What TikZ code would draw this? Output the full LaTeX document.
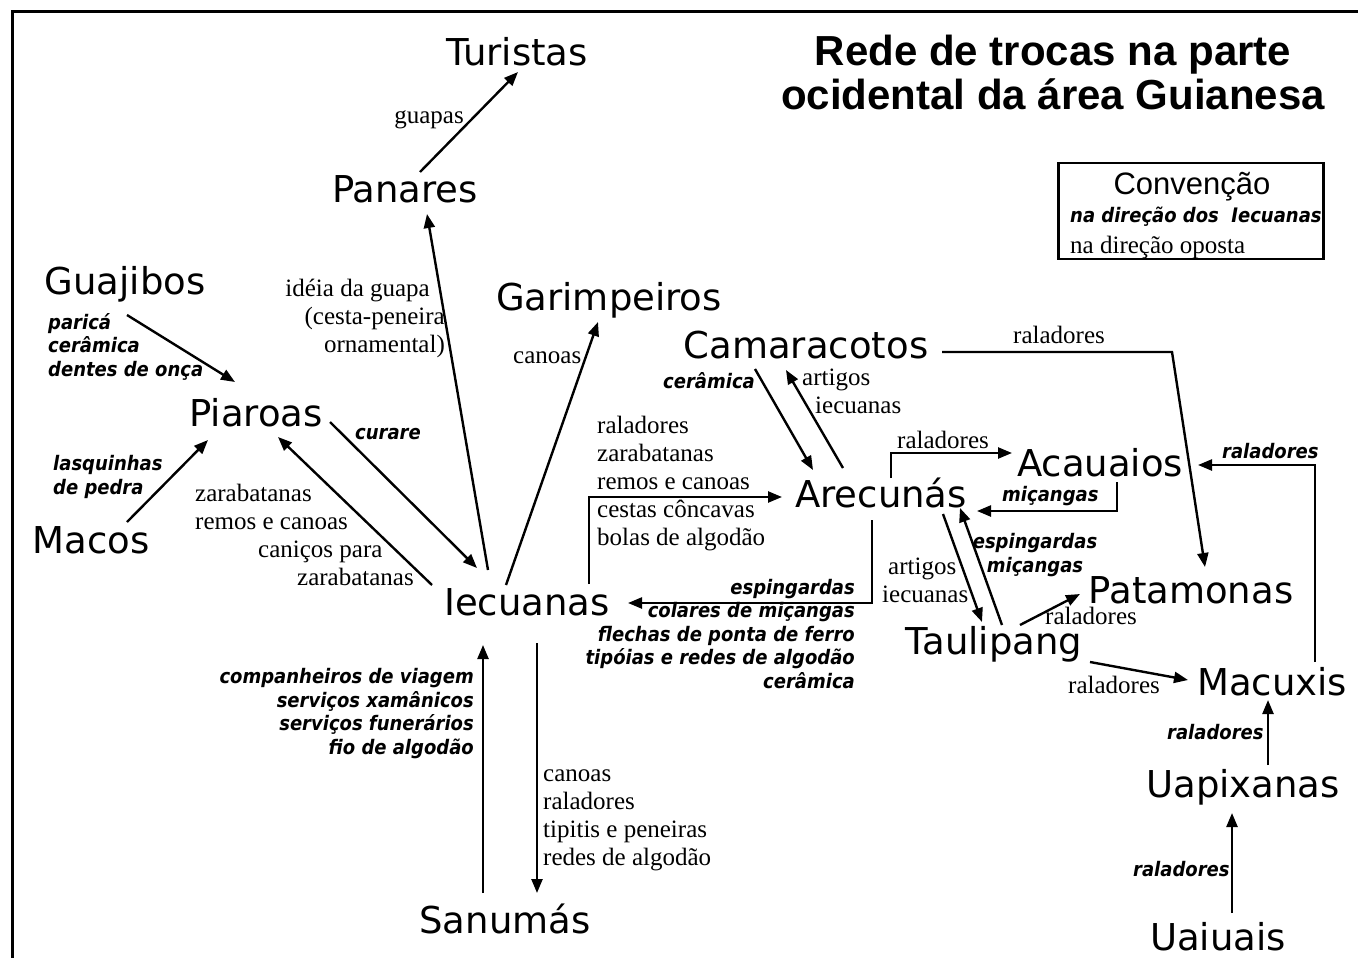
\documentclass[tikz,border=0pt]{standalone}
\usepackage{fontspec}
\setmainfont{Liberation Serif}
\newfontfamily\tribefont{DejaVu Sans}
\newfontfamily\headfont{Liberation Sans}
\newfontfamily\slfont{DejaVuSansCondensed-BoldOblique.ttf}
\usetikzlibrary{arrows.meta}

\begin{document}
\begin{tikzpicture}[x=1pt,y=-1pt,
  tribe/.style={font=\tribefont\fontsize{37}{40}\selectfont, inner sep=0pt, anchor=base},
  note/.style={font=\fontsize{25}{28}\selectfont, inner sep=0pt, anchor=base west, align=left},
  snote/.style={font=\slfont\fontsize{20}{23.5}\selectfont, inner sep=0pt, anchor=base west, align=left},
  to/.style={->, >={Triangle[length=14pt,width=11pt]}, line width=2.4pt}]

  \useasboundingbox (0,0) rectangle (1358,958);
  \draw[line width=3pt] (12,958) -- (12,12) -- (1358,12);

  % title and legend
  \node[font=\headfont\bfseries\fontsize{42}{44}\selectfont, align=center,
        anchor=base, inner sep=0pt] (title) at (1053,110)
        {Rede de trocas na parte\\ocidental da área Guianesa};
  \node[draw, line width=2.4pt, minimum width=265pt, minimum height=96pt] (conv) at (1191,211) {};
  \node[font=\headfont\fontsize{31}{34}\selectfont, anchor=base, inner sep=0pt] (convt) at (1192,194) {Convenção};
  \node[snote] (conva) at (1070,222) {na direção dos\ \ Iecuanas};
  \node[note] (convb) at (1070,253) {na direção oposta};

  % peoples
  \node[tribe] (tur) at (517,66) {Turistas};
  \node[tribe] (pan) at (405,202) {Panares};
  \node[tribe] (gua) at (125,294) {Guajibos};
  \node[tribe] (gar) at (609,310) {Garimpeiros};
  \node[tribe] (cam) at (806,358) {Camaracotos};
  \node[tribe] (pia) at (256,426) {Piaroas};
  \node[tribe] (aca) at (1100,476) {Acauaios};
  \node[tribe] (are) at (881,507) {Arecunás};
  \node[tribe] (mac) at (91,553) {Macos};
  \node[tribe] (iec) at (527,615) {Iecuanas};
  \node[tribe] (pat) at (1191,603) {Patamonas};
  \node[tribe] (tau) at (994,654) {Taulipang};
  \node[tribe] (mcx) at (1272,695) {Macuxis};
  \node[tribe] (uap) at (1243,797) {Uapixanas};
  \node[tribe] (san) at (505,933) {Sanumás};
  \node[tribe] (uai) at (1218,950) {Uaiuais};

  % exchanges
  \draw[to] ([shift={(15,-30)}]pan.base) -- ([shift={(1,6)}]tur.base);
  \draw[to] ([shift={(-39,-45)}]iec.base) -- ([shift={(22,12)}]pan.base);
  \draw[to] ([shift={(-21,-30)}]iec.base) -- ([shift={(-11,12)}]gar.base);
  \draw[to] ([shift={(2,21)}]gua.base) -- ([shift={(-21,-44)}]pia.base);
  \draw[to] ([shift={(36,-31)}]mac.base) -- ([shift={(-48,14)}]pia.base);
  \draw[to] ([shift={(74,-4)}]pia.base) -- ([shift={(-50,-47)}]iec.base);
  \draw[to] ([shift={(-95,-30)}]iec.base) -- ([shift={(22,11)}]pia.base);
  \draw[to] ([shift={(62,-31)}]iec.base) |- ([shift={(-99,-10)}]are.base);
  \draw[to] ([shift={(-9,13)}]are.base) |- ([shift={(101,-12)}]iec.base);
  \draw[to] ([shift={(-51,11)}]cam.base) -- ([shift={(-68,-37)}]are.base);
  \draw[to] ([shift={(-38,-39)}]are.base) -- ([shift={(-20,12)}]cam.base);
  \draw[to] ([shift={(136,-6)}]cam.base) -- ++(230,0) -- ([shift={(14,-36)}]pat.base);
  \draw[to] ([shift={(10,-29)}]are.base) |- ([shift={(-88,-23)}]aca.base);
  \draw[to] ([shift={(17,6)}]aca.base) |- ([shift={(96,4)}]are.base);
  \draw[to] ([shift={(62,7)}]are.base) -- ([shift={(-12,-32)}]tau.base);
  \draw[to] ([shift={(8,-29)}]tau.base) -- ([shift={(79,1)}]are.base);
  \draw[to] ([shift={(26,-29)}]tau.base) -- ([shift={(-111,-9)}]pat.base);
  \draw[to] ([shift={(96,8)}]tau.base) -- ([shift={(-84,-15)}]mcx.base);
  \draw[to] ([shift={(43,-33)}]mcx.base) |- ([shift={(98,-11)}]aca.base);
  \draw[to] ([shift={(25,-32)}]uap.base) -- ([shift={(-4,5)}]mcx.base);
  \draw[to] ([shift={(14,-37)}]uai.base) -- ([shift={(-11,16)}]uap.base);
  \draw[to] ([shift={(-22,-40)}]san.base) -- ([shift={(-44,30)}]iec.base);
  \draw[to] ([shift={(10,28)}]iec.base) -- ([shift={(32,-40)}]san.base);

  % goods (multi-line notes sit on their last baseline)
  \node[note, anchor=base east] (lguap) at (464,123) {guapas};
  \node[note, anchor=base east, align=right] (lidea) at (445,352)
       {idéia da guapa\hspace*{15pt}\\(cesta-peneira\hspace*{12pt}\\ornamental)};
  \node[note] (lcanoa) at (513,363) {canoas};
  \node[snote] (lparica) at (48,376) {paricá\\cerâmica\\dentes de onça};
  \node[snote] (llasq) at (53,494) {lasquinhas\\de pedra};
  \node[snote] (lcurare) at (355,439) {curare};
  \node[note] (lzarab) at (195,585)
       {zarabatanas\\remos e canoas\\\hspace*{63pt}caniços para\\\hspace*{102pt}zarabatanas};
  \node[note] (lareiec) at (597,545)
       {raladores\\zarabatanas\\remos e canoas\\cestas côncavas\\bolas de algodão};
  \node[snote, anchor=base east, align=right] (liecare) at (855,688)
       {espingardas\\colares de miçangas\\flechas de ponta de ferro\\tipóias e redes de algodão\\cerâmica};
  \node[snote, anchor=base east] (lcamare) at (755,388) {cerâmica};
  \node[note] (larecam) at (802,413) {artigos\\\hspace*{13pt}iecuanas};
  \node[note] (lcampat) at (1013,343) {raladores};
  \node[note] (lareaca) at (897,448) {raladores};
  \node[snote] (lacaare) at (1002,501) {miçangas};
  \node[note] (laretau) at (882,602) {\hspace*{6pt}artigos\\iecuanas};
  \node[snote, anchor=base, align=center] (ltauare) at (1035,572) {espingardas\\miçangas};
  \node[note] (ltaupat) at (1045,624) {raladores};
  \node[note] (ltaumcx) at (1068,693) {raladores};
  \node[snote] (lmcxaca) at (1222,458) {raladores};
  \node[snote] (luapmcx) at (1167,739) {raladores};
  \node[snote] (luaiuap) at (1133,876) {raladores};
  \node[snote, anchor=base east, align=right] (lsaniec) at (474,754)
       {companheiros de viagem\\serviços xamânicos\\serviços funerários\\fio de algodão};
  \node[note] (liecsan) at (543,865) {canoas\\raladores\\tipitis e peneiras\\redes de algodão};
\end{tikzpicture}
\end{document}
